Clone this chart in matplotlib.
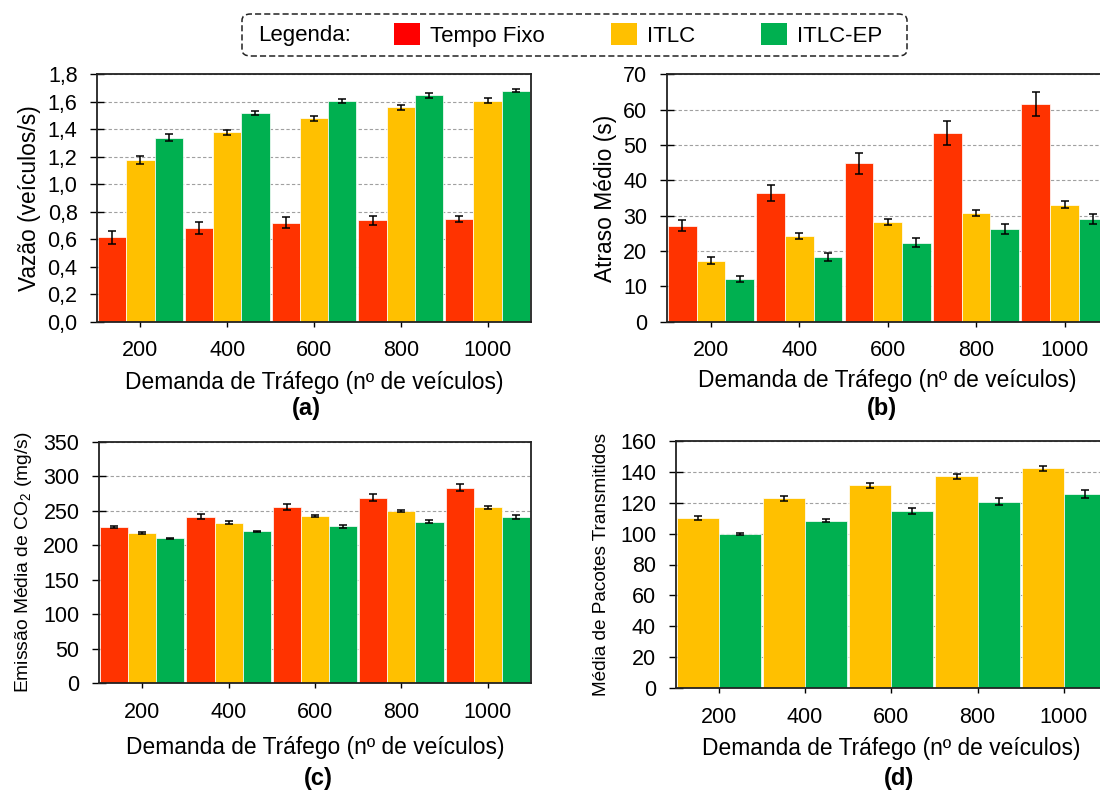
import matplotlib
matplotlib.use("Agg")
import matplotlib.pyplot as plt
import numpy as np
from matplotlib.patches import FancyBboxPatch, Patch
from matplotlib.ticker import FuncFormatter, MultipleLocator

plt.rcParams["font.family"] = ["Liberation Sans", "DejaVu Sans"]
plt.rcParams["mathtext.default"] = "regular"

DEMANDA = ["200", "400", "600", "800", "1000"]
COLORS = {"Tempo Fixo": "#ff3300", "ITLC": "#ffc000", "ITLC-EP": "#00b050"}
LEGEND_NAMES = ["Tempo Fixo", "ITLC", "ITLC-EP"]
LEGEND_COLORS = ["#ff0000", "#ffc000", "#00b050"]

# (a) vazao (veiculos/s)
vazao_tf = [0.613, 0.681, 0.720, 0.737, 0.747]
vazao_tf_err = [0.049, 0.041, 0.041, 0.035, 0.024]
vazao_itlc = [1.177, 1.379, 1.481, 1.559, 1.608]
vazao_itlc_err = [0.027, 0.018, 0.019, 0.018, 0.016]
vazao_ep = [1.340, 1.520, 1.608, 1.647, 1.681]
vazao_ep_err = [0.026, 0.016, 0.015, 0.017, 0.012]

# (b) atraso medio (s)
atraso_tf = [27.2, 36.4, 44.8, 53.4, 61.7]
atraso_tf_err = [1.6, 2.3, 3.0, 3.3, 3.4]
atraso_itlc = [17.3, 24.2, 28.2, 30.7, 33.1]
atraso_itlc_err = [0.9, 0.9, 0.8, 0.8, 0.95]
atraso_ep = [12.0, 18.2, 22.4, 26.2, 29.1]
atraso_ep_err = [0.85, 1.1, 1.2, 1.4, 1.4]

# (c) emissao media de CO2 (mg/s)
co2_tf = [226.6, 241.2, 254.8, 269.1, 283.6]
co2_tf_err = [1.7, 3.4, 4.3, 5.0, 5.5]
co2_itlc = [217.6, 232.5, 242.7, 249.9, 254.7]
co2_itlc_err = [1.5, 2.0, 1.5, 1.5, 1.5]
co2_ep = [210.0, 220.0, 227.3, 234.0, 240.3]
co2_ep_err = [1.0, 1.2, 2.0, 2.5, 3.0]

# (d) media de pacotes transmitidos
pac_itlc = [110.1, 123.0, 131.3, 137.1, 142.3]
pac_itlc_err = [1.4, 1.6, 1.6, 1.5, 1.8]
pac_ep = [99.8, 108.5, 114.7, 120.8, 125.7]
pac_ep_err = [0.6, 1.2, 1.8, 2.2, 2.5]

W, H = 1100, 792


def draw_panel(ax, series, ymax, step, ylabel, ylabel_x, xlabel_y, comma=False,
               ylabel_size=16.4):
    x = np.arange(len(DEMANDA))
    n = len(series)
    width = 0.975 / n
    for i, (name, vals, errs) in enumerate(series):
        off = (i - (n - 1) / 2) * width
        ax.bar(x + off, vals, width=width, color=COLORS[name], edgecolor="white",
               linewidth=0.5, zorder=2)
        ax.errorbar(x + off, vals, yerr=errs, fmt="none", ecolor="black",
                    elinewidth=1.1, capsize=2.6, capthick=1.1, zorder=3)
    ax.set_xlim(-0.5, len(DEMANDA) - 0.5)
    ax.set_ylim(0, ymax)
    ax.yaxis.set_major_locator(MultipleLocator(step))
    if comma:
        ax.yaxis.set_major_formatter(FuncFormatter(lambda v, p: f"{v:.1f}".replace(".", ",")))
    ax.set_xticks(x, DEMANDA)
    ax.tick_params(axis="x", direction="inout", length=6.8, width=1, pad=10,
                   labelsize=15.5)
    ax.tick_params(axis="y", direction="inout", length=10, width=1, pad=9,
                   labelsize=15.5)
    ax.grid(axis="y", color="#a0a0a0", linestyle=(0, (3, 2)), linewidth=0.8)
    ax.set_axisbelow(True)
    for s in ax.spines.values():
        s.set_linewidth(1.3)
        s.set_color("#222222")
    ax.set_xlabel("Demanda de Tráfego (nº de veículos)", fontsize=16.4)
    ax.xaxis.set_label_coords(0.5, xlabel_y)
    ax.set_ylabel(ylabel, fontsize=ylabel_size)
    ax.yaxis.set_label_coords(ylabel_x, 0.5)


fig = plt.figure(figsize=(W / 100, H / 100), dpi=100)

ax_a = fig.add_axes([97 / W, 1 - 321.7 / H, 434 / W, 247.4 / H])
draw_panel(ax_a, [("Tempo Fixo", vazao_tf, vazao_tf_err),
                  ("ITLC", vazao_itlc, vazao_itlc_err),
                  ("ITLC-EP", vazao_ep, vazao_ep_err)],
           1.8, 0.2, "Vazão (veículos/s)", -0.129, -0.2, comma=True)

ax_b = fig.add_axes([666.7 / W, 1 - 321.7 / H, 442 / W, 247.4 / H])
draw_panel(ax_b, [("Tempo Fixo", atraso_tf, atraso_tf_err),
                  ("ITLC", atraso_itlc, atraso_itlc_err),
                  ("ITLC-EP", atraso_ep, atraso_ep_err)],
           70, 10, "Atraso Médio (s)", -0.112, -0.191)

ax_c = fig.add_axes([99 / W, 1 - 683.3 / H, 432 / W, 241.6 / H])
draw_panel(ax_c, [("Tempo Fixo", co2_tf, co2_tf_err),
                  ("ITLC", co2_itlc, co2_itlc_err),
                  ("ITLC-EP", co2_ep, co2_ep_err)],
           350, 50, "Emissão Média de CO$_2$ (mg/s)", -0.15, -0.218, ylabel_size=13.9)

ax_d = fig.add_axes([675.5 / W, 1 - 688 / H, 431.5 / W, 247 / H])
draw_panel(ax_d, [("ITLC", pac_itlc, pac_itlc_err),
                  ("ITLC-EP", pac_ep, pac_ep_err)],
           160, 20, "Média de Pacotes Transmitidos", -0.152, -0.197, ylabel_size=13.7)

# panel letters
for label, px, py in [("(a)", 306, 408), ("(b)", 882, 408), ("(c)", 318, 779), ("(d)", 899, 778)]:
    fig.text(px / W, 1 - py / H, label, ha="center", va="center",
             fontsize=17, fontweight="bold")

# legend with dashed rounded frame
box = FancyBboxPatch((242 / W, 1 - 56 / H), 665 / W, 42 / H, transform=fig.transFigure,
                     boxstyle="round,pad=0,rounding_size=0.008", facecolor="white",
                     edgecolor="#222222", linestyle=(0, (4, 2)), linewidth=1.1)
fig.add_artist(box)
fig.text(258 / W, 1 - 35 / H, "Legenda:", ha="left", va="center", fontsize=16)
handles = [Patch(facecolor=c, edgecolor="none") for c in LEGEND_COLORS]
fig.legend(handles, LEGEND_NAMES, loc="center left", bbox_to_anchor=(394 / W, 1 - 35 / H),
           ncol=3, frameon=False, fontsize=16, handlelength=1.15, handleheight=1.15,
           handletextpad=0.45, columnspacing=3.0, borderpad=0, borderaxespad=0)

fig.savefig("out.png", dpi=100)
